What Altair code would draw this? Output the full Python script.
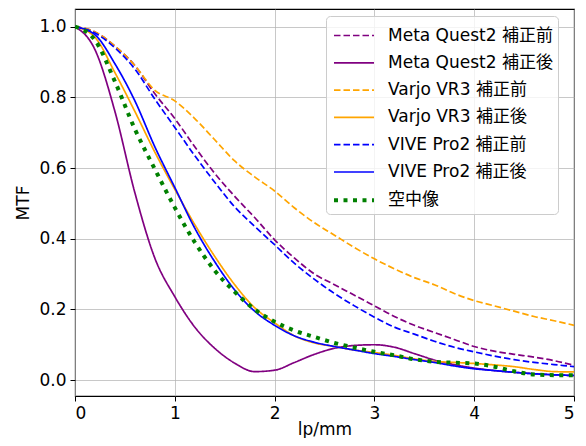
import altair as alt
import pandas as pd

x_vals = [0.0, 0.2, 0.4, 0.6, 0.8, 1.0, 1.2, 1.4, 1.6, 1.8, 2.0, 2.2, 2.4, 2.6,
          2.8, 3.0, 3.2, 3.4, 3.6, 3.8, 4.0, 4.2, 4.4, 4.6, 4.8, 5.0]

meta_before = [1.0, 0.985, 0.945, 0.89, 0.81, 0.74, 0.66, 0.585, 0.52, 0.46, 0.397,
               0.345, 0.30, 0.27, 0.24, 0.21, 0.18, 0.155, 0.135, 0.115, 0.095,
               0.082, 0.073, 0.065, 0.055, 0.042]
meta_after = [1.0, 0.935, 0.76, 0.53, 0.345, 0.236, 0.15, 0.09, 0.048, 0.024, 0.028,
              0.05, 0.073, 0.09, 0.098, 0.10, 0.093, 0.075, 0.057, 0.044, 0.034,
              0.027, 0.022, 0.018, 0.015, 0.013]
varjo_before = [1.0, 0.985, 0.945, 0.89, 0.82, 0.79, 0.74, 0.68, 0.62, 0.575, 0.535,
                0.487, 0.445, 0.41, 0.375, 0.343, 0.315, 0.29, 0.27, 0.245, 0.225,
                0.21, 0.195, 0.18, 0.168, 0.155]
varjo_after = [1.0, 0.97, 0.87, 0.76, 0.645, 0.54, 0.44, 0.35, 0.27, 0.205, 0.162,
               0.125, 0.105, 0.095, 0.085, 0.078, 0.07, 0.06, 0.053, 0.05, 0.047,
               0.043, 0.038, 0.03, 0.024, 0.023]
vive_before = [1.0, 0.982, 0.94, 0.88, 0.795, 0.715, 0.635, 0.56, 0.49, 0.435, 0.383,
               0.33, 0.285, 0.245, 0.21, 0.178, 0.15, 0.13, 0.11, 0.093, 0.08,
               0.068, 0.058, 0.05, 0.044, 0.038]
vive_after = [1.0, 0.977, 0.895, 0.79, 0.66, 0.545, 0.43, 0.335, 0.255, 0.195, 0.155,
              0.125, 0.107, 0.095, 0.085, 0.075, 0.067, 0.058, 0.05, 0.04, 0.032,
              0.027, 0.022, 0.018, 0.015, 0.013]
aerial = [1.0, 0.962, 0.845, 0.71, 0.597, 0.488, 0.39, 0.31, 0.25, 0.20, 0.165,
          0.14, 0.122, 0.105, 0.092, 0.08, 0.07, 0.059, 0.052, 0.049, 0.047,
          0.038, 0.025, 0.016, 0.014, 0.014]

series_names = ["Meta Quest2 補正前", "Meta Quest2 補正後", "Varjo VR3 補正前",
                "Varjo VR3 補正後", "VIVE Pro2 補正前", "VIVE Pro2 補正後", "空中像"]
series_values = [meta_before, meta_after, varjo_before, varjo_after,
                 vive_before, vive_after, aerial]
series_colors = ["purple", "purple", "orange", "orange", "blue", "blue", "green"]
dash_dashed = [6.5, 3]
dash_dotted = [4, 5.5]
series_dashes = [dash_dashed, [1, 0], dash_dashed, [1, 0], dash_dashed, [1, 0], dash_dotted]
series_widths = [1.7, 1.7, 1.7, 1.7, 1.7, 1.7, 4.0]

x_ticks = [0, 1, 2, 3, 4, 5]
y_ticks = [0.0, 0.2, 0.4, 0.6, 0.8, 1.0]

rows = []
for order, (name, vals) in enumerate(zip(series_names, series_values)):
    for xv, yv in zip(x_vals, vals):
        rows.append({"series": name, "order": order, "x": xv, "y": yv})
df = pd.DataFrame(rows)

FONT = "DejaVu Sans, Noto Sans CJK JP, sans-serif"
FS = 17

legend = alt.Legend(
    title=None, orient="none", legendX=251, legendY=7,
    symbolType="M-0.926,0L2.037,0", symbolSize=729,
    labelFontSize=FS, labelFont=FONT, labelColor="black",
    labelOffset=26, rowPadding=4.3, padding=5, fillColor="rgba(255,255,255,0.8)",
    strokeColor="#cccccc", cornerRadius=4, labelLimit=400,
)

chart = alt.Chart(df).mark_line(interpolate="monotone", clip=True, strokeCap="butt").encode(
    x=alt.X("x:Q", scale=alt.Scale(domain=[0, 5], nice=False, zero=False),
            axis=alt.Axis(values=x_ticks, format="d", title="lp/mm",
                          titleBaseline="alphabetic", titleY=38)),
    y=alt.Y("y:Q", scale=alt.Scale(domain=[-0.045, 1.05], nice=False, zero=False),
            axis=alt.Axis(values=y_ticks, format=".1f", title="MTF")),
    color=alt.Color("series:N", scale=alt.Scale(domain=series_names, range=series_colors),
                    legend=legend),
    strokeDash=alt.StrokeDash("series:N", scale=alt.Scale(domain=series_names, range=series_dashes),
                              legend=legend),
    strokeWidth=alt.StrokeWidth("series:N",
                                scale=alt.Scale(type="ordinal", domain=series_names, range=series_widths),
                                legend=legend),
    order="order:Q",
    detail="series:N",
).properties(
    width=499, height=387,
    autosize=alt.AutoSizeParams(type="none"),
    padding={"left": 67, "top": 1, "right": 4, "bottom": 42},
).configure_view(
    stroke="black", strokeWidth=1.1
).configure_axis(
    grid=True, gridColor="#b0b0b0", gridWidth=1, gridOpacity=0.7,
    domain=False, ticks=True, tickColor="black", tickSize=5, tickWidth=1,
    labelFont=FONT, labelFontSize=FS, labelColor="black", labelPadding=4,
    titleFont=FONT, titleFontSize=FS, titleColor="black", titleFontWeight="normal",
).configure_axisY(
    titlePadding=6
)

chart.save("out.html", embed_options={"renderer": "svg", "actions": False})
